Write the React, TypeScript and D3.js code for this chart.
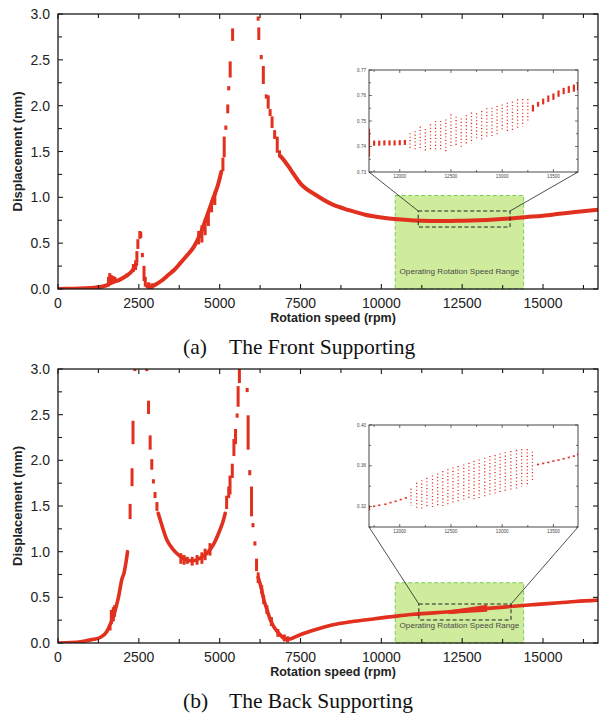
import React from 'react';
import * as d3 from 'd3';

// ---------- shared axes ----------
const xDomain = [0, 16700];
const yDomain = [0, 3];
const xTickValues = [0, 2500, 5000, 7500, 10000, 12500, 15000];
const xMinorValues = [1250, 3750, 6250, 8750, 11250, 13750, 16250];
const yTickValues = [0, 0.5, 1.0, 1.5, 2.0, 2.5, 3.0];
const yMinorValues = [0.25, 0.75, 1.25, 1.75, 2.25, 2.75];
const operatingRange = [10430, 14400];
const insetXDomain = [11700, 13740];
const insetXTicks = [12000, 12500, 13000, 13500];
const insetXMinor = [11750, 12250, 12750, 13250];

// ---------- (a) front supporting ----------
const frontLineSpeed = [0, 400, 800, 1100, 1300, 1500, 1700, 1900, 2100, 2300, 2420, NaN, 2760, 2850, 3000, 3200, 3400, 3600, 3800, 4000, 4200, 4400, 4600, 4800, 4960, 5050, NaN, 6880, 7000, 7200, 7500, 8000, 8500, 9000, 9500, 10000, 10500, 11000, 11500, 12000, 12500, 13000, 13500, 14000, 14500, 15000, 15500, 16000, 16700];
const frontLineDisp = [0, 0.003, 0.007, 0.013, 0.022, 0.04, 0.075, 0.1, 0.14, 0.2, 0.27, NaN, 0.03, 0.02, 0.045, 0.09, 0.15, 0.21, 0.29, 0.37, 0.46, 0.6, 0.79, 0.99, 1.15, 1.28, NaN, 1.45, 1.4, 1.3, 1.15, 1.02, 0.92, 0.86, 0.81, 0.78, 0.76, 0.748, 0.742, 0.741, 0.745, 0.75, 0.758, 0.77, 0.785, 0.8, 0.82, 0.84, 0.865];
const frontDashSpeed = [1560, 1600, 1640, 1700, 1760, 2330, 2400, 2440, 2470, 2530, 2560, 2610, 2660, 2700, 2800, 2900, 4350, 4450, 4550, 4650, 4750, 4850, 5100, 5140, 5190, 5250, 5280, 5325, 5400, 6190, 6210, 6285, 6350, 6440, 6500, 6560, 6620, 6700, 6780, 6850];
const frontDashLow = [0.04, 0.06, 0.07, 0.07, 0.08, 0.2, 0.22, 0.3, 0.45, 0.56, 0.57, 0.36, 0.1, 0.04, 0.0, 0.0, 0.5, 0.52, 0.6, 0.7, 0.85, 0.93, 1.3, 1.45, 1.75, 1.93, 2.18, 2.32, 2.72, 2.94, 2.73, 2.52, 2.25, 2.09, 1.98, 1.9, 1.77, 1.65, 1.5, 1.45];
const frontDashHigh = [0.12, 0.16, 0.14, 0.13, 0.12, 0.26, 0.3, 0.4, 0.53, 0.62, 0.61, 0.38, 0.24, 0.12, 0.06, 0.05, 0.62, 0.68, 0.75, 0.82, 0.95, 1.05, 1.42, 1.65, 1.77, 2.0, 2.2, 2.47, 2.83, 2.96, 2.84, 2.54, 2.42, 2.11, 2.1, 1.95, 1.87, 1.72, 1.65, 1.5];
const frontGreenTop = 1.02;
const frontZoomBox = [11140, 13980, 0.676, 0.851];
const frontInsetY = [0.73, 0.77];
const frontInsetYTicks = [0.73, 0.74, 0.75, 0.76, 0.77];
const frontInsetYMinor = [0.735, 0.745, 0.755, 0.765];
const frontInsetSolidSpeed = [11700, 11750, 11800, 11850, 11900, 11950, 12000, 12050, 13300, 13350, 13400, 13450, 13500, 13550, 13600, 13650, 13700, 13740];
const frontInsetSolidLow = [0.736, 0.7403, 0.7403, 0.7404, 0.7404, 0.7404, 0.7405, 0.7406, 0.7537, 0.7556, 0.7565, 0.7575, 0.7583, 0.7595, 0.7605, 0.761, 0.7615, 0.762];
const frontInsetSolidHigh = [0.747, 0.7423, 0.7423, 0.7424, 0.7424, 0.7424, 0.7425, 0.7426, 0.7563, 0.7575, 0.7588, 0.76, 0.7608, 0.762, 0.763, 0.7637, 0.7643, 0.765];
const frontInsetDotSpeed = [12100, 12150, 12200, 12250, 12300, 12350, 12400, 12450, 12500, 12550, 12600, 12650, 12700, 12750, 12800, 12850, 12900, 12950, 13000, 13050, 13100, 13150, 13200, 13250];
const frontInsetDotLow = [0.7386, 0.7386, 0.7386, 0.7377, 0.738, 0.738, 0.738, 0.7377, 0.7395, 0.7405, 0.7398, 0.7409, 0.7412, 0.7425, 0.7425, 0.7432, 0.7439, 0.7445, 0.7458, 0.7458, 0.746, 0.7468, 0.7478, 0.7497];
const frontInsetDotHigh = [0.7452, 0.746, 0.7478, 0.7469, 0.7487, 0.75, 0.75, 0.7506, 0.7526, 0.7517, 0.751, 0.7523, 0.7533, 0.753, 0.7539, 0.755, 0.7552, 0.7559, 0.7565, 0.7572, 0.7576, 0.7585, 0.7586, 0.7586];

// ---------- (b) back supporting ----------
const backLineSpeed = [0, 400, 800, 1100, 1300, 1500, 1610, 1700, 1800, 1870, 1970, 2050, 2110, 2150, NaN, 3100, 3160, 3365, 3570, 3780, 3980, 4190, 4400, 4600, 4810, 5010, 5120, 5170, NaN, 6190, 6300, 6360, 6460, 6560, 6670, 6770, 6870, 6970, 7080, 7180, 7490, 8000, 8510, 9000, 9560, 10000, 10590, 11000, 11620, 12000, 12660, 13000, 13690, 14000, 14720, 15500, 16000, 16700];
const backLineDisp = [0, 0.004, 0.02, 0.04, 0.06, 0.12, 0.2, 0.28, 0.4, 0.5, 0.69, 0.78, 0.9, 1.0, NaN, 1.42, 1.35, 1.13, 1.02, 0.95, 0.91, 0.9, 0.93, 0.98, 1.08, 1.24, 1.35, 1.42, NaN, 0.72, 0.58, 0.48, 0.37, 0.26, 0.18, 0.13, 0.09, 0.055, 0.04, 0.045, 0.09, 0.15, 0.2, 0.23, 0.255, 0.275, 0.3, 0.315, 0.33, 0.34, 0.357, 0.37, 0.39, 0.4, 0.42, 0.44, 0.455, 0.47];
const backDashSpeed = [1610, 1650, 1710, 1750, 2230, 2290, 2320, 2380, 2745, 2800, 2850, 2900, 2950, 3000, 3060, 3800, 3900, 4000, 4150, 4300, 4450, 4550, 4700, 5215, 5280, 5320, 5390, 5440, 5490, 5540, 5570, 5610, 5850, 5880, 5930, 5985, 6030, 6090, 6140, 6190, 6300, 6360, 6460, 6600, 6800, 7000, 7100];
const backDashLow = [0.15, 0.22, 0.25, 0.3, 1.37, 1.73, 2.19, 2.99, 2.99, 2.52, 2.13, 1.91, 1.76, 1.6, 1.46, 0.88, 0.87, 0.88, 0.86, 0.87, 0.88, 0.92, 0.97, 1.48, 1.6, 1.64, 1.82, 2.06, 2.19, 2.48, 2.6, 2.86, 2.76, 2.13, 1.85, 1.4, 1.28, 1.08, 0.8, 0.67, 0.55, 0.44, 0.33, 0.2, 0.08, 0.03, 0.02];
const backDashHigh = [0.17, 0.35, 0.38, 0.4, 1.51, 1.9, 2.42, 3.0, 3.0, 2.64, 2.26, 2.0, 1.78, 1.64, 1.53, 0.97, 0.95, 0.93, 0.93, 0.95, 0.98, 1.02, 1.08, 1.6, 1.7, 1.82, 1.95, 2.22, 2.33, 2.5, 2.8, 3.0, 2.78, 2.48, 1.88, 1.7, 1.3, 1.1, 0.91, 0.76, 0.62, 0.51, 0.4, 0.27, 0.14, 0.08, 0.06];
const backBandSpeed = [12100, 12700, 13250];
const backBandLow = [0.325, 0.34, 0.35];
const backBandHigh = [0.35, 0.38, 0.41];
const backGreenTop = 0.66;
const backZoomBox = [11160, 14010, 0.252, 0.427];
const backInsetY = [0.30, 0.40];
const backInsetYTicks = [0.32, 0.36, 0.40];
const backInsetYMinor = [0.30, 0.34, 0.38];
const backInsetSolidSpeed = [11700, 11750, 11800, 11860, 11910, 11960, 12010, 12060, 13350, 13400, 13450, 13500, 13550, 13600, 13650, 13700, 13740];
const backInsetSolidLow = [0.3164, 0.3195, 0.3205, 0.3215, 0.3231, 0.3244, 0.3261, 0.3277, 0.3605, 0.3615, 0.3625, 0.3638, 0.3648, 0.3661, 0.3674, 0.3687, 0.3703];
const backInsetSolidHigh = [0.3213, 0.3211, 0.3221, 0.3231, 0.3247, 0.326, 0.3277, 0.3293, 0.3621, 0.3631, 0.3641, 0.3654, 0.3664, 0.3677, 0.369, 0.3703, 0.3719];
const backInsetDotSpeed = [12110, 12165, 12215, 12265, 12320, 12370, 12420, 12470, 12520, 12570, 12625, 12675, 12725, 12775, 12830, 12880, 12930, 12980, 13030, 13085, 13140, 13190, 13245, 13295];
const backInsetDotLow = [0.3207, 0.3174, 0.318, 0.3187, 0.3197, 0.3197, 0.3207, 0.3213, 0.3223, 0.3236, 0.3252, 0.3262, 0.3269, 0.3279, 0.3295, 0.3311, 0.3328, 0.3344, 0.3344, 0.336, 0.3377, 0.3393, 0.34, 0.3443];
const backInsetDotHigh = [0.3377, 0.3433, 0.3459, 0.3482, 0.3505, 0.3525, 0.3548, 0.3567, 0.3584, 0.3597, 0.3613, 0.3629, 0.3649, 0.3662, 0.3679, 0.3695, 0.3705, 0.3721, 0.3734, 0.3744, 0.3754, 0.3764, 0.3764, 0.3738];

const RED = '#e2301f';
const SANS = 'Arial, "Liberation Sans", Helvetica, sans-serif';
const SERIF = '"Times New Roman", "Liberation Serif", serif';

type PanelProps = {
  id: string;
  top: number;
  bottom: number;
  lineSpeed: number[];
  lineDisp: number[];
  dashSpeed: number[];
  dashLow: number[];
  dashHigh: number[];
  bandSpeed?: number[];
  bandLow?: number[];
  bandHigh?: number[];
  greenTop: number;
  zoomBox: number[];
  insetTop: number;
  insetBottom: number;
  insetY: number[];
  insetYTicks: number[];
  insetYMinor: number[];
  solidSpeed: number[];
  solidLow: number[];
  solidHigh: number[];
  dotSpeed: number[];
  dotLow: number[];
  dotHigh: number[];
  tag: string;
  caption: string;
  captionY: number;
  lineWidth: number;
};

function Panel(p: PanelProps) {
  const L = 58, R = 598;
  const x = d3.scaleLinear().domain(xDomain).range([L, R]);
  const y = d3.scaleLinear().domain(yDomain).range([p.bottom, p.top]);
  const idx = p.lineSpeed.map((_, i) => i);
  const linePath = d3.line<number>()
    .defined(i => !isNaN(p.lineDisp[i]))
    .x(i => x(p.lineSpeed[i]))
    .y(i => y(p.lineDisp[i]))
    .curve(d3.curveMonotoneX)(idx) || '';
  let bandPath = '';
  if (p.bandSpeed && p.bandLow && p.bandHigh) {
    const bi = p.bandSpeed.map((_, i) => i);
    bandPath = d3.area<number>()
      .x(i => x(p.bandSpeed![i]))
      .y0(i => y(p.bandLow![i]))
      .y1(i => y(p.bandHigh![i]))
      .curve(d3.curveMonotoneX)(bi) || '';
  }
  const IL = 369, IR = 578;
  const ix = d3.scaleLinear().domain(insetXDomain).range([IL, IR]);
  const iy = d3.scaleLinear().domain(p.insetY).range([p.insetBottom, p.insetTop]);
  const bx0 = x(p.zoomBox[0]), bx1 = x(p.zoomBox[1]);
  const by0 = y(p.zoomBox[3]), by1 = y(p.zoomBox[2]);
  const gx0 = x(operatingRange[0]), gx1 = x(operatingRange[1]);
  const gy = y(p.greenTop);
  const tickCol = '#1a1a1a';
  const ink = '#444';
  return (
    <g>
      <defs>
        <clipPath id={`clip-${p.id}`}>
          <rect x={L} y={p.top} width={R - L} height={p.bottom - p.top} />
        </clipPath>
        <clipPath id={`iclip-${p.id}`}>
          <rect x={IL} y={p.insetTop} width={IR - IL} height={p.insetBottom - p.insetTop} />
        </clipPath>
      </defs>
      {/* operating range */}
      <rect x={gx0} y={gy} width={gx1 - gx0} height={p.bottom - gy} fill="#cfeb9c" stroke="#77cc5a" strokeWidth={1} strokeDasharray="4 2.5" />
      <text x={(gx0 + gx1) / 2} y={p.bottom - 15.5} fontFamily={SANS} fontSize={8.1} fill="#4a4a4a" textAnchor="middle">Operating Rotation Speed Range</text>
      <g clipPath={`url(#clip-${p.id})`}>
        <path d={linePath} fill="none" stroke={RED} strokeWidth={p.lineWidth} strokeLinejoin="round" strokeLinecap="round" />
        {bandPath && <path d={bandPath} fill={RED} stroke={RED} strokeWidth={1.5} />}
        {p.dashSpeed.map((s, i) => (
          <rect key={i} x={x(s) - 1.5} y={y(p.dashHigh[i]) - 1.2} width={3} height={y(p.dashLow[i]) - y(p.dashHigh[i]) + 2.4} fill={RED} />
        ))}
      </g>
      {/* zoom box */}
      <rect x={bx0} y={by0} width={bx1 - bx0} height={by1 - by0} fill="none" stroke="#222" strokeWidth={1} strokeDasharray="4 2.5" />
      <line x1={IL} y1={p.insetBottom} x2={bx0} y2={by0} stroke="#222" strokeWidth={0.8} />
      <line x1={IR} y1={p.insetBottom} x2={bx1} y2={by0} stroke="#222" strokeWidth={0.8} />
      {/* inset */}
      <rect x={IL} y={p.insetTop} width={IR - IL} height={p.insetBottom - p.insetTop} fill="#fff" />
      <g clipPath={`url(#iclip-${p.id})`}>
        {p.solidSpeed.map((s, i) => (
          <rect key={'s' + i} x={ix(s) - 1.1} y={iy(p.solidHigh[i])} width={2.2} height={Math.max(1.5, iy(p.solidLow[i]) - iy(p.solidHigh[i]))} fill={RED} />
        ))}
        {p.dotSpeed.map((s, i) => (
          <line key={'d' + i} x1={ix(s)} x2={ix(s)} y1={iy(p.dotHigh[i])} y2={iy(p.dotLow[i])} stroke={RED} strokeWidth={1.3} strokeDasharray="1.1 2.3" />
        ))}
      </g>
      <rect x={IL} y={p.insetTop} width={IR - IL} height={p.insetBottom - p.insetTop} fill="none" stroke="#333" strokeWidth={0.9} />
      {insetXTicks.concat(insetXMinor).map((t, i) => {
        const len = i < insetXTicks.length ? 3 : 2;
        return (
          <g key={'ixt' + i}>
            <line x1={ix(t)} x2={ix(t)} y1={p.insetBottom} y2={p.insetBottom - len} stroke="#333" strokeWidth={0.7} />
            <line x1={ix(t)} x2={ix(t)} y1={p.insetTop} y2={p.insetTop + len} stroke="#333" strokeWidth={0.7} />
          </g>
        );
      })}
      {insetXTicks.map((t, i) => (
        <text key={'ixl' + i} x={ix(t)} y={p.insetBottom + 6} fontFamily={SANS} fontSize={4.6} fill={ink} textAnchor="middle">{t}</text>
      ))}
      {p.insetYTicks.concat(p.insetYMinor).map((t, i) => {
        const len = i < p.insetYTicks.length ? 3 : 2;
        return (
          <g key={'iyt' + i}>
            <line x1={IL} x2={IL + len} y1={iy(t)} y2={iy(t)} stroke="#333" strokeWidth={0.7} />
            <line x1={IR} x2={IR - len} y1={iy(t)} y2={iy(t)} stroke="#333" strokeWidth={0.7} />
          </g>
        );
      })}
      {p.insetYTicks.map((t, i) => (
        <text key={'iyl' + i} x={IL - 3} y={iy(t) + 1.6} fontFamily={SANS} fontSize={4.6} fill={ink} textAnchor="end">{d3.format('.2f')(t)}</text>
      ))}
      {/* main frame */}
      <rect x={L} y={p.top} width={R - L} height={p.bottom - p.top} fill="none" stroke={tickCol} strokeWidth={1.3} />
      {xTickValues.concat(xMinorValues).map((t, i) => {
        const len = i < xTickValues.length ? 5 : 4;
        return (
          <g key={'xt' + i}>
            <line x1={x(t)} x2={x(t)} y1={p.bottom} y2={p.bottom - len} stroke={tickCol} strokeWidth={1.1} />
            <line x1={x(t)} x2={x(t)} y1={p.top} y2={p.top + len} stroke={tickCol} strokeWidth={1.1} />
          </g>
        );
      })}
      {yTickValues.concat(yMinorValues).map((t, i) => {
        const len = i < yTickValues.length ? 5 : 4;
        return (
          <g key={'yt' + i}>
            <line x1={L} x2={L + len} y1={y(t)} y2={y(t)} stroke={tickCol} strokeWidth={1.1} />
            <line x1={R} x2={R - len} y1={y(t)} y2={y(t)} stroke={tickCol} strokeWidth={1.1} />
          </g>
        );
      })}
      {xTickValues.map((t, i) => (
        <text key={'xl' + i} x={x(t)} y={p.bottom + 19} fontFamily={SANS} fontSize={14} fill="#222" textAnchor="middle">{t}</text>
      ))}
      {yTickValues.map((t, i) => (
        <text key={'yl' + i} x={L - 8} y={y(t) + 5} fontFamily={SANS} fontSize={14} fill="#222" textAnchor="end">{d3.format('.1f')(t)}</text>
      ))}
      <text x={(L + R) / 2 + 5} y={p.bottom + 33} fontFamily={SANS} fontSize={12.5} fontWeight="bold" fill="#222" textAnchor="middle">Rotation speed (rpm)</text>
      <text transform={`translate(22,${(p.top + p.bottom) / 2}) rotate(-90)`} fontFamily={SANS} fontSize={13} fontWeight="bold" fill="#222" textAnchor="middle">Displacement (mm)</text>
      <text x={183} y={p.captionY} fontFamily={SERIF} fontSize={21.5} fill="#111">{p.tag}</text>
      <text x={229} y={p.captionY} fontFamily={SERIF} fontSize={21.5} fill="#111">{p.caption}</text>
    </g>
  );
}

export default function App() {
  return (
    <svg width={599} height={715} style={{ position: 'absolute', left: 0, top: 0, background: '#fff' }}>
      <rect x={0} y={0} width={599} height={715} fill="#fff" />
      <Panel
        id="a" top={14} bottom={289}
        lineSpeed={frontLineSpeed} lineDisp={frontLineDisp}
        dashSpeed={frontDashSpeed} dashLow={frontDashLow} dashHigh={frontDashHigh}
        greenTop={frontGreenTop} zoomBox={frontZoomBox}
        insetTop={70} insetBottom={172}
        insetY={frontInsetY} insetYTicks={frontInsetYTicks} insetYMinor={frontInsetYMinor}
        solidSpeed={frontInsetSolidSpeed} solidLow={frontInsetSolidLow} solidHigh={frontInsetSolidHigh}
        dotSpeed={frontInsetDotSpeed} dotLow={frontInsetDotLow} dotHigh={frontInsetDotHigh}
        tag="(a)" caption="The Front Supporting" captionY={354} lineWidth={4}
      />
      <Panel
        id="b" top={369} bottom={643}
        lineSpeed={backLineSpeed} lineDisp={backLineDisp}
        dashSpeed={backDashSpeed} dashLow={backDashLow} dashHigh={backDashHigh}
        bandSpeed={backBandSpeed} bandLow={backBandLow} bandHigh={backBandHigh}
        greenTop={backGreenTop} zoomBox={backZoomBox}
        insetTop={425} insetBottom={527}
        insetY={backInsetY} insetYTicks={backInsetYTicks} insetYMinor={backInsetYMinor}
        solidSpeed={backInsetSolidSpeed} solidLow={backInsetSolidLow} solidHigh={backInsetSolidHigh}
        dotSpeed={backInsetDotSpeed} dotLow={backInsetDotLow} dotHigh={backInsetDotHigh}
        tag="(b)" caption="The Back Supporting" captionY={708} lineWidth={3.6}
      />
    </svg>
  );
}
